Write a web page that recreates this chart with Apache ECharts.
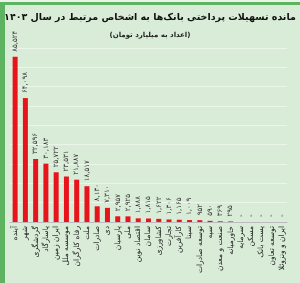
<!DOCTYPE html>
<html><head><meta charset="utf-8">
<script src="https://cdn.jsdelivr.net/npm/echarts@6/dist/echarts.min.js"></script>
<style>html,body{margin:0;padding:0;}#c{width:300px;height:283px;}</style>
</head><body><div id="c"></div>
<script>
const categories = ['آینده','شهر','گردشگری','پاسارگاد','ایران زمین','موسسه ملل','رفاه کارگران','ملت','صادرات','دی','پارسیان','ملی','اقتصاد نوین','سامان','کشاورزی','تجارت','کارآفرین','سینا','توسعه صادرات','سپه','صنعت و معدن','خاورمیانه','سرمایه','مسکن','پست بانک','توسعه تعاون','ایران و ونزوئلا'];
const values = [85524,64098,32596,30183,25722,23531,21887,18517,8130,7310,2957,2925,1888,1815,1622,1306,1165,1009,952,590,369,295,0,0,0,0,0];
const titleText = 'مانده تسهیلات پرداختی بانک‌ها به اشخاص مرتبط در سال ۱۴۰۳';
const subtitleText = '(اعداد به میلیارد تومان)';

const fa = s => String(s).replace(/\d/g, d => '۰۱۲۳۴۵۶۷۸۹'[d]);
const fmt = v => v === 0 ? '-' : fa(v.toString().replace(/\B(?=(\d{3})+(?!\d))/g, ','));

const chart = echarts.init(document.getElementById('c'), null, {renderer: 'canvas'});
chart.setOption({
  backgroundColor: '#d8ecd8',
  animation: false,
  textStyle: {fontFamily: 'DejaVu Sans'},
  graphic: [
    {type: 'rect', left: 0, top: 0, shape: {width: 300, height: 283}, style: {fill: 'none', stroke: '#5db35f', lineWidth: 5}, z: 100},
    {type: 'rect', left: 0, top: 0, shape: {width: 300, height: 2}, style: {fill: '#e8f4e8'}, z: 101}
  ],
  title: [
    {text: titleText, left: 'center', top: 8, textStyle: {fontSize: 9.5, fontWeight: 'bold', color: '#111', fontFamily: 'DejaVu Sans'}},
    {text: subtitleText, left: 'center', top: 27, textStyle: {fontSize: 7, fontWeight: 'bold', color: '#222', fontFamily: 'DejaVu Sans'}}
  ],
  grid: {left: 10, right: 13, top: 48, bottom: 61, containLabel: false},
  xAxis: {
    type: 'category', data: categories,
    axisLine: {lineStyle: {color: '#bbb'}}, axisTick: {show: false},
    axisLabel: {rotate: 90, interval: 0, fontSize: 7.5, color: '#222', margin: 4}
  },
  yAxis: {
    type: 'value', min: 0, max: 90000, interval: 10000,
    axisLabel: {show: false}, axisLine: {show: false}, axisTick: {show: false},
    splitLine: {lineStyle: {color: '#eaf6ea', width: 1}}
  },
  series: [{
    type: 'bar', data: values, barWidth: 5,
    itemStyle: {color: '#e8141c'},
    label: {show: true, position: 'top', rotate: 90, align: 'left', verticalAlign: 'middle', distance: 5,
      fontSize: 7, color: '#333', formatter: p => fmt(p.value)}
  }]
});
</script></body></html>
